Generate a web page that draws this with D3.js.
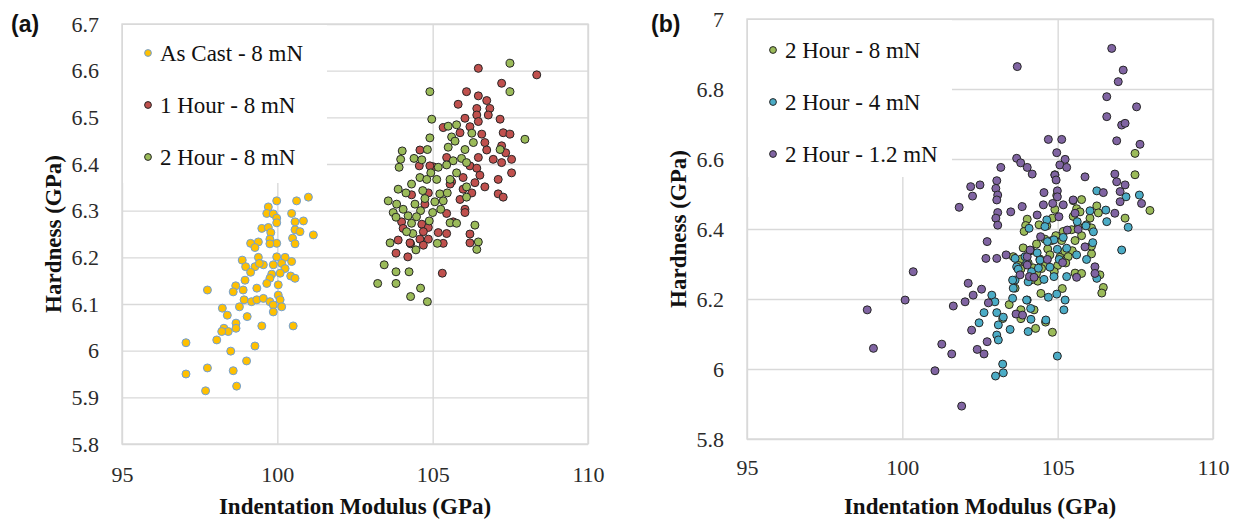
<!DOCTYPE html>
<html>
<head>
<meta charset="utf-8">
<script src="https://cdn.jsdelivr.net/npm/d3@7"></script>
<style>
  body { margin: 0; background: #fff; }
  svg text { font-family: "Liberation Serif", "Times New Roman", Times, "DejaVu Serif", serif; }
  svg text.tag { font-family: "Liberation Sans", Arial, sans-serif; }
</style>
</head>
<body>
<svg id="chart" width="1242" height="523"></svg>
<script>
// ---- data: [indentation modulus (GPa), hardness (GPa)] ----
var asCast = [[99.98,6.321],[100.62,6.321],[101.00,6.329],[99.71,6.308],[99.66,6.294],[99.87,6.293],[100.46,6.294],[99.98,6.284],[100.84,6.278],[100.57,6.276],[99.98,6.274],[99.50,6.262],[99.71,6.264],[100.57,6.259],[100.73,6.255],[99.79,6.253],[101.16,6.248],[100.49,6.241],[99.76,6.239],[99.39,6.233],[99.14,6.230],[99.28,6.221],[99.98,6.230],[100.57,6.229],[99.76,6.229],[98.87,6.194],[99.39,6.200],[99.98,6.201],[100.25,6.200],[100.14,6.187],[100.46,6.191],[98.98,6.180],[99.28,6.180],[99.55,6.184],[99.42,6.187],[99.87,6.184],[100.25,6.176],[99.14,6.168],[99.82,6.164],[100.09,6.166],[100.43,6.160],[100.57,6.155],[98.96,6.151],[99.76,6.155],[99.66,6.144],[100.03,6.141],[98.66,6.139],[97.75,6.130],[98.58,6.126],[98.90,6.130],[99.34,6.134],[100.03,6.119],[98.93,6.109],[99.17,6.105],[99.34,6.109],[99.55,6.112],[99.76,6.105],[100.09,6.109],[98.78,6.094],[99.87,6.098],[100.14,6.094],[98.23,6.091],[98.39,6.076],[99.87,6.083],[99.03,6.073],[98.67,6.059],[99.50,6.053],[100.51,6.053],[98.28,6.048],[98.42,6.041],[98.67,6.048],[98.21,6.041],[98.05,6.023],[97.06,6.017],[99.28,6.010],[98.50,5.999],[99.01,5.978],[97.75,5.963],[98.58,5.957],[97.06,5.950],[98.69,5.924],[97.69,5.914]];

var hour1_8mN = [[106.47,6.605],[108.35,6.591],[107.22,6.573],[106.09,6.555],[106.47,6.546],[106.74,6.536],[105.82,6.528],[106.42,6.519],[106.84,6.519],[106.42,6.505],[106.79,6.505],[106.04,6.498],[107.17,6.496],[106.47,6.491],[105.34,6.478],[106.20,6.480],[105.88,6.467],[107.27,6.467],[107.49,6.464],[106.58,6.464],[106.68,6.446],[106.74,6.430],[107.22,6.439],[107.35,6.424],[104.59,6.430],[106.47,6.414],[106.95,6.410],[107.22,6.403],[107.54,6.410],[105.45,6.414],[104.57,6.396],[105.02,6.394],[106.20,6.396],[106.42,6.391],[107.54,6.381],[105.98,6.371],[106.52,6.376],[107.11,6.367],[105.61,6.362],[106.36,6.360],[106.68,6.351],[105.98,6.346],[106.26,6.338],[104.86,6.338],[107.11,6.336],[107.27,6.329],[105.88,6.324],[104.75,6.314],[106.04,6.303],[106.04,6.296],[105.45,6.294],[105.66,6.276],[104.00,6.276],[104.65,6.271],[104.86,6.264],[104.05,6.262],[104.70,6.255],[105.18,6.253],[106.20,6.250],[104.59,6.239],[104.86,6.239],[105.34,6.230],[103.89,6.237],[106.20,6.231],[104.29,6.229],[104.70,6.226],[103.82,6.209],[104.20,6.201],[105.31,6.166],[104.27,6.231],[105.45,6.251],[104.32,6.334],[104.91,6.396],[105.56,6.357]];

// same 2 h / 8 mN set is shown in both panels
var hour2_8mN = [[107.49,6.616],[107.49,6.555],[104.91,6.555],[104.97,6.496],[107.97,6.453],[104.91,6.456],[105.50,6.481],[105.77,6.484],[106.26,6.466],[105.61,6.458],[105.72,6.449],[106.31,6.446],[107.17,6.431],[104.02,6.428],[103.97,6.410],[103.92,6.393],[104.83,6.431],[105.50,6.436],[106.04,6.431],[104.40,6.412],[104.65,6.409],[105.66,6.407],[105.93,6.412],[106.09,6.403],[105.45,6.398],[105.18,6.393],[104.94,6.381],[105.77,6.381],[104.59,6.371],[104.32,6.357],[104.81,6.367],[105.13,6.367],[105.56,6.367],[103.89,6.346],[104.14,6.338],[104.68,6.343],[105.23,6.336],[105.47,6.338],[106.09,6.329],[103.57,6.321],[103.84,6.314],[104.43,6.314],[104.75,6.326],[105.07,6.319],[105.34,6.321],[103.73,6.296],[104.05,6.303],[104.61,6.300],[105.00,6.296],[105.26,6.303],[103.82,6.286],[104.21,6.289],[104.48,6.287],[104.89,6.278],[104.32,6.273],[105.56,6.274],[105.77,6.273],[106.36,6.269],[104.36,6.251],[103.63,6.231],[105.15,6.230],[104.46,6.216],[106.47,6.233],[106.42,6.217],[103.44,6.184],[103.82,6.169],[104.24,6.169],[103.23,6.144],[103.82,6.144],[104.61,6.134],[104.29,6.116],[104.83,6.105],[104.16,6.255],[106.09,6.351]];

var hour2_4mN = [[106.26,6.509],[107.20,6.492],[107.63,6.497],[106.55,6.454],[106.58,6.421],[107.27,6.405],[107.06,6.340],[106.04,6.452],[105.91,6.409],[106.15,6.392],[106.13,6.361],[105.63,6.421],[104.65,6.426],[104.59,6.407],[104.08,6.402],[104.88,6.369],[105.18,6.376],[104.99,6.342],[104.67,6.364],[105.29,6.345],[105.61,6.326],[105.93,6.313],[103.63,6.316],[103.95,6.321],[104.34,6.332],[104.43,6.311],[104.75,6.291],[105.05,6.313],[104.00,6.302],[104.16,6.278],[104.56,6.256],[104.88,6.264],[105.29,6.264],[106.26,6.259],[103.63,6.254],[103.57,6.231],[104.02,6.197],[104.70,6.205],[104.97,6.214],[105.24,6.197],[102.88,6.211],[102.98,6.192],[104.38,6.288],[103.68,6.292],[102.63,6.161],[102.47,6.132],[103.04,6.161],[103.25,6.148],[103.09,6.126],[103.47,6.113],[103.04,6.097],[103.09,6.083],[104.05,6.107],[104.14,6.142],[104.62,6.140],[104.00,6.197],[103.55,6.202],[104.99,6.037],[103.23,6.014],[103.25,5.989],[103.00,5.980],[105.20,6.169],[104.13,6.173],[104.05,6.249],[103.55,6.254],[103.73,6.285]];

var hour2_1p2mN = [[106.74,6.916],[103.70,6.864],[107.11,6.854],[106.95,6.821],[106.58,6.778],[107.54,6.749],[106.58,6.721],[107.06,6.697],[107.17,6.702],[106.90,6.652],[107.65,6.642],[104.70,6.656],[105.13,6.656],[104.97,6.618],[105.24,6.599],[103.68,6.602],[103.81,6.589],[104.02,6.576],[104.18,6.557],[103.17,6.576],[105.07,6.583],[105.29,6.576],[104.91,6.554],[104.95,6.540],[105.88,6.549],[106.84,6.557],[106.90,6.535],[107.17,6.526],[107.01,6.507],[106.47,6.504],[107.01,6.478],[107.70,6.473],[106.84,6.445],[104.99,6.509],[104.56,6.504],[104.99,6.492],[105.50,6.483],[103.04,6.538],[103.01,6.516],[103.07,6.497],[103.04,6.483],[102.20,6.521],[102.50,6.526],[102.26,6.494],[101.83,6.462],[103.86,6.464],[103.49,6.449],[103.07,6.447],[103.01,6.431],[103.07,6.411],[104.54,6.469],[104.84,6.473],[105.18,6.469],[105.56,6.445],[104.34,6.440],[105.04,6.435],[105.31,6.397],[105.66,6.399],[102.73,6.364],[102.69,6.316],[103.04,6.316],[103.34,6.326],[104.02,6.321],[104.45,6.378],[104.67,6.313],[105.88,6.349],[106.20,6.292],[106.20,6.273],[104.02,6.297],[103.79,6.269],[104.09,6.264],[105.16,6.304],[105.61,6.262],[102.12,6.245],[102.55,6.228],[102.28,6.211],[102.02,6.192],[101.64,6.180],[102.77,6.189],[98.87,6.169],[99.07,6.059],[100.35,6.278],[100.09,6.197],[101.05,5.995],[101.91,5.894],[101.27,6.071],[101.59,6.043],[102.23,6.111],[102.73,6.078],[102.41,6.056],[102.63,6.043],[103.66,6.157],[103.87,6.154],[104.11,6.340],[104.24,6.262]];

var xTicks = [95, 100, 105, 110];
var yTicksA = [5.8, 5.9, 6, 6.1, 6.2, 6.3, 6.4, 6.5, 6.6, 6.7];
var yTicksB = [5.8, 6, 6.2, 6.4, 6.6, 6.8, 7];
var namesA = ["As Cast - 8 mN", "1 Hour - 8 mN", "2 Hour - 8 mN"];
var namesB = ["2 Hour - 8 mN", "2 Hour - 4 mN", "2 Hour - 1.2 mN"];

var serif = "'Liberation Serif', 'Times New Roman', Times, 'DejaVu Serif', serif";

var svg = d3.select("#chart");
svg.append("rect").attr("width", 1242).attr("height", 523).attr("fill", "#fff");

var gridCol = "#d9d9d9";
var fmt = function (d) { return String(+d.toFixed(1)); };

function drawPanel(p) {
    var x = d3.scaleLinear().domain([95, 110]).range([p.left, p.right]);
    var y = d3.scaleLinear().domain([5.8, p.yMax]).range([p.bottom, p.top]);
    var g = svg.append("g").style("font-family", serif);

    // horizontal grid + y tick labels
    var ya = g.append("g")
        .attr("transform", "translate(" + p.left + ",0)")
        .call(d3.axisLeft(y).tickValues(p.yTicks).tickFormat(fmt)
            .tickSize(-(p.right - p.left)).tickPadding(23));
    // vertical grid + x tick labels
    var xa = g.append("g")
        .attr("transform", "translate(0," + p.bottom + ")")
        .call(d3.axisBottom(x).tickValues(xTicks).tickFormat(d3.format("d"))
            .tickSize(-(p.bottom - p.top)).tickPadding(p.xPad));
    [ya, xa].forEach(function (a) {
        a.attr("font-family", null).attr("font-size", null);
        a.select(".domain").remove();
        a.selectAll("line").attr("stroke", gridCol).attr("stroke-width", 1.4);
        a.selectAll("text").style("font-family", serif)
            .style("font-size", "22px").attr("fill", "#2b2b2b");
    });
    g.append("rect")
        .attr("x", p.left).attr("y", p.top)
        .attr("width", p.right - p.left).attr("height", p.bottom - p.top)
        .attr("fill", "none").attr("stroke", gridCol).attr("stroke-width", 1.4);

    // points, series in legend order
    p.series.forEach(function (s) {
        g.append("g").selectAll("circle")
            .data(s.data)
            .enter().append("circle")
            .attr("cx", function (d) { return x(d[0]); })
            .attr("cy", function (d) { return y(d[1]); })
            .attr("r", 4)
            .attr("fill", s.fill)
            .attr("stroke", s.stroke)
            .attr("stroke-width", 1);
    });

    // legend box sits over the grid
    g.append("rect")
        .attr("x", p.left + 1).attr("y", p.top + 1)
        .attr("width", 204).attr("height", p.legH)
        .attr("fill", "#fff");
    var leg = g.selectAll(".leg")
        .data(p.series)
        .enter().append("g")
        .attr("transform", function (d, i) {
            return "translate(" + (p.left + 26) + "," + (p.legY + i * 52) + ")";
        });
    leg.append("circle").attr("r", 3.4)
        .attr("fill", function (d) { return d.fill; })
        .attr("stroke", function (d) { return d.stroke; })
        .attr("stroke-width", 1);
    leg.append("text")
        .attr("x", 12).attr("dy", "0.35em")
        .style("font-family", serif).style("font-size", "23px").attr("fill", "#111")
        .text(function (d) { return d.name; });

    // axis titles
    g.append("text")
        .attr("x", (p.left + p.right) / 2).attr("y", 514)
        .attr("text-anchor", "middle").attr("font-weight", "bold")
        .style("font-family", serif).style("font-size", "23px").attr("fill", "#111")
        .text("Indentation Modulus (GPa)");
    g.append("text")
        .attr("transform", "translate(" + (p.left - 61) + "," + ((p.top + p.bottom) / 2) + ") rotate(-90)")
        .attr("text-anchor", "middle").attr("font-weight", "bold")
        .style("font-family", serif).style("font-size", "23px").attr("fill", "#111")
        .text("Hardness (GPa)");

    // panel tag
    g.append("text")
        .attr("class", "tag")
        .attr("x", p.tagX).attr("y", 32)
        .style("font-family", "'Liberation Sans', Arial, sans-serif")
        .attr("font-weight", "bold").style("font-size", "23px").attr("fill", "#111")
        .text(p.tag);
}

var dark = "#262626";

drawPanel({
    tag: "(a)", tagX: 11,
    left: 122, right: 588, top: 24, bottom: 444, yMax: 6.7, yTicks: yTicksA, xPad: 22,
    legH: 158, legY: 53,
    series: [
        { name: namesA[0], data: asCast, fill: "#ffc000", stroke: "#6f9fd8" },
        { name: namesA[1], data: hour1_8mN, fill: "#c0504d", stroke: dark },
        { name: namesA[2], data: hour2_8mN, fill: "#9bbb59", stroke: dark }
    ]
});

drawPanel({
    tag: "(b)", tagX: 651,
    left: 747, right: 1213, top: 19, bottom: 439, yMax: 7, yTicks: yTicksB, xPad: 20,
    legH: 157, legY: 50,
    series: [
        { name: namesB[0], data: hour2_8mN, fill: "#9bbb59", stroke: dark },
        { name: namesB[1], data: hour2_4mN, fill: "#4bacc6", stroke: dark },
        { name: namesB[2], data: hour2_1p2mN, fill: "#8064a2", stroke: dark }
    ]
});
</script>
</body>
</html>
